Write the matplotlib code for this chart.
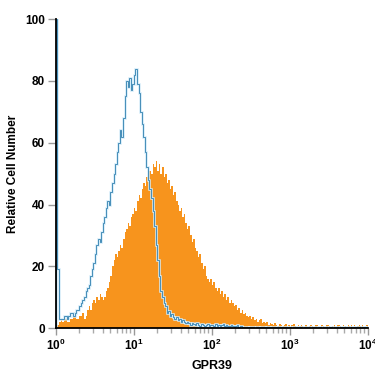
import numpy as np
import matplotlib
matplotlib.use('Agg')
from matplotlib import pyplot as plt
from matplotlib.ticker import LogLocator, NullFormatter

plt.rcParams['font.family'] = ['Liberation Sans Narrow', 'Liberation Sans', 'DejaVu Sans']
plt.rcParams['font.weight'] = 'bold'
plt.rcParams['mathtext.fontset'] = 'custom'
plt.rcParams['mathtext.rm'] = 'Liberation Sans Narrow:bold'
plt.rcParams['mathtext.it'] = 'Liberation Sans Narrow:bold'
plt.rcParams['mathtext.bf'] = 'Liberation Sans Narrow:bold'

# 50 channels per decade, 10^0 .. 10^4
bins_per_decade = 50
edges = 10 ** (np.arange(4 * bins_per_decade + 1) / bins_per_decade)

# GPR39 stained cells (orange, filled)
gpr39 = [2, 1, 2, 3, 2, 3, 3, 2, 2, 3,
         3, 4, 4, 3, 3, 4, 4, 5, 3, 4,
         6, 7, 6, 8, 9, 8, 10, 9, 11, 10,
         9, 10, 12, 13, 15, 17, 20, 22, 24, 23,
         25, 27, 26, 29, 31, 32, 34, 33, 36, 37,
         39, 38, 41, 43, 42, 45, 47, 46, 49, 48,
         51, 50, 53, 52, 54, 51, 53, 50, 52, 49,
         50, 47, 48, 45, 46, 43, 44, 41, 40, 38,
         39, 36, 37, 34, 32, 33, 30, 28, 29, 26,
         25, 23, 24, 21, 19, 20, 17, 16, 15, 16,
         14, 15, 13, 12, 13, 11, 12, 10, 11, 9,
         10, 8, 9, 8, 7, 7.5, 6, 6.5, 5, 6,
         4.5, 5, 4, 3.5, 4, 3, 3.5, 2.5, 3, 2,
         2.5, 3, 1.5, 2, 1.5, 2, 1, 1.5, 1.2, 1,
         1.5, 1, 0.8, 1.2, 1, 0.7, 1, 1.2, 0.8, 1,
         0.5, 1, 1.2, 0.7, 0, 1, 0.6, 1, 0.8, 0.5,
         1, 0, 0.8, 1, 0.6, 0.5, 1, 1, 0.4, 0,
         1, 0.8, 0.5, 1, 1, 0.6, 0, 0.8, 1, 0.5,
         1, 1, 0.7, 0, 1, 0.8, 0.5, 1, 0.6, 1,
         0.5, 1, 0, 0.8, 1, 0.6, 1, 0.5, 0.8, 1]

# isotype control (blue outline)
control = [100, 19, 3, 3, 3, 4, 4, 3, 4, 5,
           5, 4, 5, 6, 6, 7, 8, 9, 10, 12,
           13, 14, 17, 19, 21, 24, 27, 29, 28, 31,
           34, 36, 39, 41, 40, 44, 47, 50, 53, 57,
           60, 64, 62, 68, 75, 80, 78, 81, 77, 79,
           82, 84, 79, 76, 70, 66, 62, 57, 52, 48,
           45, 42, 38, 33, 27, 22, 17, 12, 10, 8,
           7, 5, 5.5, 4, 4.5, 3.5, 3, 3.5, 2.5, 3,
           2, 2.5, 2, 1.5, 2, 1.5, 1, 1.5, 1.2, 1,
           1.5, 1, 0.8, 1.2, 1, 0.8, 1, 1.3, 0.8, 1,
           1, 0.8, 1.2, 0.6, 1, 0.8, 1, 1.3, 0.7, 0.9,
           0.8, 0.6, 1, 0.8, 0.5, 0.7, 0.9, 0.5, 0.6, 0.4,
           0.3, 0.4, 0.3, 0.2, 0.3, 0.4, 0.3, 0.2, 0.3, 0.3,
           0.2, 0.3, 0.4, 0.3, 0.2, 0.3, 0.3, 0.2, 0.3, 0.4,
           0.3, 0.2, 0.3, 0.3, 0.2, 0.3, 0.4, 0.3, 0.2, 0.3,
           0.3, 0.2, 0.3, 0.4, 0.3, 0.2, 0.3, 0.3, 0.2, 0.3,
           0.3, 0.4, 0.3, 0.2, 0.3, 0.4, 0.3, 0.2, 0.3, 0.3,
           0.2, 0.3, 0.4, 0.3, 0.2, 0.3, 0.3, 0.2, 0.3, 0.4,
           0.3, 0.2, 0.3, 0.3, 0.2, 0.3, 0.4, 0.3, 0.2, 0.3,
           0.3, 0.2, 0.3, 0.4, 0.3, 0.2, 0.3, 0.3, 0.2, 0.3]

y_ticks = [0, 20, 40, 60, 80, 100]

fig = plt.figure(figsize=(3.75, 3.75), dpi=100)
ax = fig.add_axes([0.149, 0.125, 0.832, 0.824])

ax.stairs(gpr39, edges, fill=True, color='#f7941d', lw=0)
ax.stairs(control, edges, color='#d2ebf8', lw=1.8)
ax.stairs(control, edges, color='#2f7fae', lw=0.6)

ax.set_xscale('log')
ax.set_xlim(1, 1e4)
ax.set_ylim(0, 100)
ax.set_yticks(y_ticks)
ax.xaxis.set_major_locator(LogLocator(base=10, numticks=10))
ax.xaxis.set_minor_locator(LogLocator(base=10, subs=np.arange(2, 10), numticks=50))
ax.xaxis.set_minor_formatter(NullFormatter())

for side in ['top', 'right']:
    ax.spines[side].set_visible(False)
for side in ['left', 'bottom']:
    ax.spines[side].set_linewidth(1.3)
    ax.spines[side].set_color('black')

ax.tick_params(axis='both', which='major', length=5, width=1, color='#999999',
               labelsize=8.5, pad=2)
ax.tick_params(axis='x', which='minor', length=3.5, width=1, color='#aaaaaa')
ax.tick_params(axis='y', which='major', length=6)

ax.set_xlabel('GPR39', fontsize=9, fontweight='bold', labelpad=5)
ax.set_ylabel('Relative Cell Number', fontsize=8.5, fontweight='bold', labelpad=4)

fig.savefig('out.png', dpi=100)
plt.close()
